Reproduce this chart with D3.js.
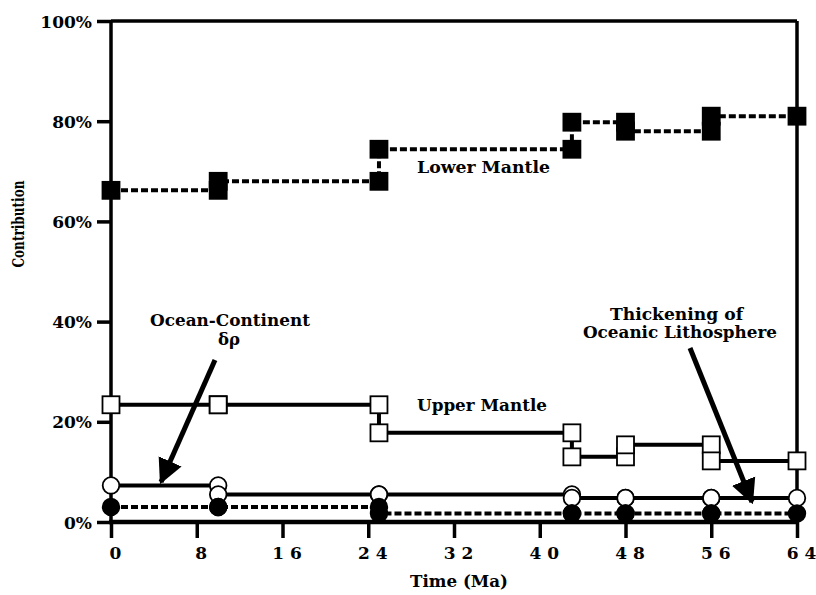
<!DOCTYPE html>
<html>
<head>
<meta charset="utf-8">
<script src="https://cdn.jsdelivr.net/npm/d3@7"></script>
<style>
  body { margin: 0; background: #fff; }
  svg { display: block; }
</style>
</head>
<body>
<svg id="chart" width="816" height="595"></svg>
<script>
// ---- data ----
const breakTimes = [0, 10, 25, 43, 48, 56, 64];           // Ma
const xTicks = [0, 8, 16, 24, 32, 40, 48, 56, 64];
const yTicks = [0, 20, 40, 60, 80, 100];
// contribution level (%) on each interval between break times
const lowerMantle   = [66.2, 68.0, 74.4, 79.8, 78.0, 81.0];
const upperMantle   = [23.4, 23.4, 17.8, 13.0, 15.4, 12.2];
const oceanCont     = [7.3, 5.5, 5.5, 4.8, 4.8, 4.8];
const lithosphere   = [3.0, 3.0, 1.7, 1.7, 1.7, 1.7];

const FONT = '"DejaVu Serif", "Liberation Serif", serif';
const svg = d3.select("#chart");
const x = d3.scaleLinear().domain([0, 64]).range([111, 797]);
const y = d3.scaleLinear().domain([0, 100]).range([522, 21]);

// frame (top & right)
svg.append("line").attr("x1", x(0)).attr("x2", x(64)).attr("y1", y(100)).attr("y2", y(100))
  .attr("stroke", "#000").attr("stroke-width", 3.5);
svg.append("line").attr("x1", x(64)).attr("x2", x(64)).attr("y1", y(100)).attr("y2", y(0))
  .attr("stroke", "#000").attr("stroke-width", 3.5);

// axes
const yAxis = d3.axisLeft(y).tickValues(yTicks).tickSize(14).tickPadding(5)
  .tickFormat(d => d + "%");
const gy = svg.append("g").attr("transform", `translate(${x(0)},0)`).call(yAxis)
  .attr("font-family", FONT).attr("font-weight", "bold");
gy.select(".domain").attr("stroke-width", 3.5).attr("stroke", "#000")
  .attr("d", `M0,${y(100)}V${y(0)}`);
gy.selectAll(".tick line").attr("stroke-width", 3.5).attr("stroke", "#000");
gy.selectAll(".tick text").attr("font-size", 17).attr("dy", "0.36em").attr("fill", "#000");

const xAxis = d3.axisBottom(x).tickValues(xTicks).tickSize(16).tickPadding(9)
  .tickFormat(d => String(d).split("").join(" "));
const gx = svg.append("g").attr("transform", `translate(0,${y(0)})`).call(xAxis)
  .attr("font-family", FONT).attr("font-weight", "bold");
gx.select(".domain").attr("stroke-width", 4.5).attr("stroke", "#000")
  .attr("d", `M${x(0) - 2},0H${x(64) + 2}`);
gx.selectAll(".tick line").attr("stroke-width", 3.5).attr("stroke", "#000");
gx.selectAll(".tick text").attr("font-size", 17).attr("dx", 4).attr("fill", "#000");

// axis titles
svg.append("text").attr("x", 459).attr("y", 587).attr("text-anchor", "middle")
  .attr("font-family", FONT).attr("font-weight", "bold")
  .attr("font-size", 16).attr("textLength", 98).attr("lengthAdjust", "spacingAndGlyphs")
  .text("Time  (Ma)");
svg.append("text").attr("transform", "translate(24,224) rotate(-90)").attr("text-anchor", "middle")
  .attr("font-family", FONT).attr("font-weight", "bold")
  .attr("font-size", 17).attr("textLength", 87).attr("lengthAdjust", "spacingAndGlyphs")
  .text("Contribution");

// step series
function stepPoints(levels) {
  const pts = [];
  levels.forEach((v, i) => { pts.push([breakTimes[i], v]); pts.push([breakTimes[i + 1], v]); });
  return pts;
}
function markerPoints(levels) {
  const pts = [[breakTimes[0], levels[0]]];
  for (let i = 1; i < levels.length; i++) {
    pts.push([breakTimes[i], levels[i - 1]]);
    pts.push([breakTimes[i], levels[i]]);
  }
  pts.push([breakTimes[levels.length], levels[levels.length - 1]]);
  return pts;
}
const line = d3.line().x(d => x(d[0])).y(d => y(d[1]));

const series = [
  { data: lowerMantle, dash: "7,3", marker: "square", fill: "#000" },
  { data: upperMantle, dash: null, marker: "square", fill: "#fff" },
  { data: oceanCont,   dash: null, marker: "circle", fill: "#fff" },
  { data: lithosphere, dash: "7,3", marker: "circle", fill: "#000" }
];

series.forEach(s => {
  svg.append("path").attr("d", line(stepPoints(s.data)))
    .attr("fill", "none").attr("stroke", "#000").attr("stroke-width", 4)
    .attr("stroke-dasharray", s.dash);
});
series.forEach(s => {
  const g = svg.append("g");
  const pts = markerPoints(s.data);
  if (s.marker === "square") {
    g.selectAll("rect").data(pts).join("rect")
      .attr("x", d => x(d[0]) - 8.5).attr("y", d => y(d[1]) - 8.5)
      .attr("width", 17).attr("height", 17)
      .attr("fill", s.fill).attr("stroke", "#000").attr("stroke-width", 1.8);
  } else {
    g.selectAll("circle").data(pts).join("circle")
      .attr("cx", d => x(d[0])).attr("cy", d => y(d[1])).attr("r", 8.3)
      .attr("fill", s.fill).attr("stroke", "#000").attr("stroke-width", 1.8);
  }
});

// labels
const labels = [
  { t: "Lower  Mantle", x: 417, y: 173, w: 133 },
  { t: "Upper  Mantle", x: 417, y: 411, w: 130 },
  { t: "Ocean-Continent", x: 150, y: 326, w: 160 },
  { t: "δρ", x: 218, y: 345, w: 22 },
  { t: "Thickening  of", x: 610, y: 320, w: 133 },
  { t: "Oceanic  Lithosphere", x: 583, y: 338, w: 194 }
];
labels.forEach(l => {
  svg.append("text").attr("x", l.x).attr("y", l.y)
    .attr("font-family", FONT).attr("font-weight", "bold")
    .attr("font-size", 16.5).attr("textLength", l.w).attr("lengthAdjust", "spacingAndGlyphs")
    .text(l.t);
});

// arrows
svg.append("defs").append("marker").attr("id", "ah").attr("viewBox", "0 0 10 10")
  .attr("refX", 9).attr("refY", 5).attr("markerWidth", 5).attr("markerHeight", 5.5)
  .attr("orient", "auto").attr("markerUnits", "strokeWidth")
  .append("path").attr("d", "M0,0L10,5L0,10Z").attr("fill", "#000");
const arrows = [
  { x1: 215, y1: 360, x2: 161, y2: 482 },
  { x1: 690, y1: 348, x2: 752, y2: 502 }
];
arrows.forEach(a => {
  svg.append("line").attr("x1", a.x1).attr("y1", a.y1).attr("x2", a.x2).attr("y2", a.y2)
    .attr("stroke", "#000").attr("stroke-width", 5).attr("marker-end", "url(#ah)");
});
</script>
</body>
</html>
